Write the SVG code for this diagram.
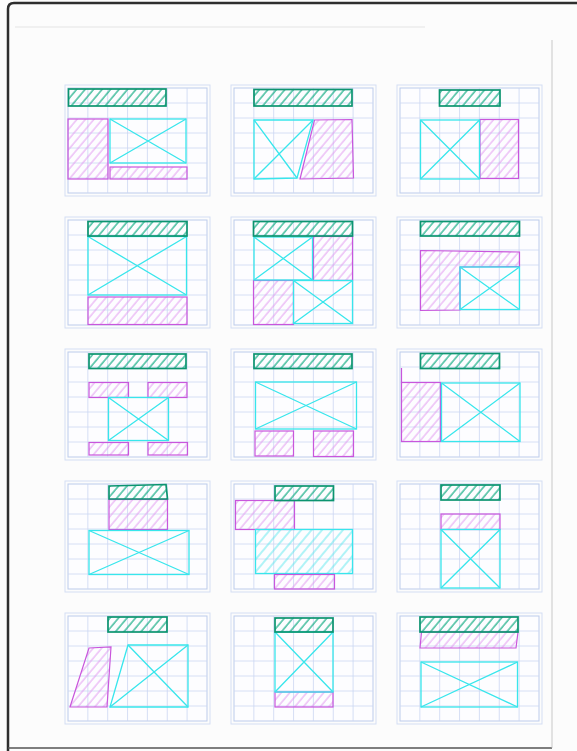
<svg xmlns="http://www.w3.org/2000/svg" xmlns:xlink="http://www.w3.org/1999/xlink" width="577" height="751" viewBox="0 0 577 751">
<style>
.frame{fill:none;stroke:#d4def3;stroke-width:1}
.gb{fill:#fdfdff;stroke:#bccbeb;stroke-width:1}
.gl{fill:none;stroke:#cbd7f3;stroke-width:0.8}
.g{fill:url(#hg);stroke:#0c9470;stroke-width:1.7}
.m{fill:url(#hm);stroke:#c956dc;stroke-width:1.2}
.c{fill:none;stroke:#38e6ec;stroke-width:1.3}
.ch{fill:url(#hc);stroke:#38e6ec;stroke-width:1.3}
.ml{fill:none;stroke:#c956dc;stroke-width:1.2}
</style>
<defs>
<pattern id="hg" width="6.5" height="6.5" patternUnits="userSpaceOnUse" patternTransform="rotate(40)"><line x1="1" y1="0" x2="1" y2="6.5" stroke="#14ad84" stroke-width="1.2"/></pattern>
<pattern id="hm" width="6.5" height="6.5" patternUnits="userSpaceOnUse" patternTransform="rotate(40)"><line x1="1" y1="0" x2="1" y2="6.5" stroke="#e196ef" stroke-width="0.9"/></pattern>
<pattern id="hc" width="8" height="8" patternUnits="userSpaceOnUse" patternTransform="rotate(40)"><line x1="1" y1="0" x2="1" y2="8" stroke="#52e6ec" stroke-width="0.9"/></pattern>
<g id="gridtpl">
<rect x="-3" y="-3" width="145" height="111" class="frame"/>
<rect x="0" y="0" width="139" height="105" class="gb"/>
<path class="gl" d="M19.85 0V105M39.7 0V105M59.55 0V105M79.4 0V105M99.25 0V105M119.1 0V105M0 15H139M0 30H139M0 45H139M0 60H139M0 75H139M0 90H139"/>
</g>
</defs>
<rect x="0" y="0" width="577" height="751" fill="#fcfcfc"/>
<g id="page">
<path d="M8 751V9Q8 3 14 3H577" fill="none" stroke="#2e2e2e" stroke-width="2.5"/>
<path d="M8 748H552" fill="none" stroke="#555" stroke-width="1.5"/>
<path d="M552 40V748" fill="none" stroke="#bbb" stroke-width="0.8"/>
<path d="M15 27H425" fill="none" stroke="#e4e4e4" stroke-width="1"/>
</g>

<g id="p1" transform="translate(68,88)">
<use xlink:href="#gridtpl" href="#gridtpl"/>
<rect class="m" x="0" y="31" width="40" height="60"/>
<rect class="m" x="42" y="79" width="77" height="12"/>
<rect class="c" x="42" y="31" width="76" height="44"/><path class="c" d="M42 31L118 75M118 31L42 75"/>
<rect class="g" x="0.5" y="1" width="97.5" height="17"/>
</g>

<g id="p2" transform="translate(234,88)">
<use xlink:href="#gridtpl" href="#gridtpl"/>
<polygon class="m" points="80.5,32 118,31.5 119.5,90 66,91"/>
<polygon class="c" points="20,32 79,32 63,90 20,91"/><path class="c" d="M20 32L63 90M79 32L20 91"/>
<rect class="g" x="20" y="1.5" width="98" height="16.5"/>
</g>

<g id="p3" transform="translate(400,88)">
<use xlink:href="#gridtpl" href="#gridtpl"/>
<rect class="m" x="80" y="31.5" width="38.5" height="59"/>
<rect class="c" x="20.5" y="32" width="59" height="59"/><path class="c" d="M20.5 32L79.5 91M79.5 32L20.5 91"/>
<rect class="g" x="39.5" y="2" width="60.5" height="16"/>
</g>

<g id="p4" transform="translate(68,220)">
<use xlink:href="#gridtpl" href="#gridtpl"/>
<rect class="m" x="20" y="77" width="99" height="27.5"/>
<rect class="c" x="20" y="16.5" width="98.5" height="58.5"/><path class="c" d="M20 16.5L118.5 75M118.5 16.5L20 75"/>
<rect class="g" x="20" y="1.5" width="99" height="14.5"/>
</g>

<g id="p5" transform="translate(234,220)">
<use xlink:href="#gridtpl" href="#gridtpl"/>
<rect class="m" x="79.5" y="16.5" width="39" height="44"/>
<rect class="m" x="19.5" y="60.5" width="40" height="44"/>
<rect class="c" x="20" y="17" width="58.5" height="43"/><path class="c" d="M20 17L78.5 60M78.5 17L20 60"/>
<rect class="c" x="59.5" y="60.5" width="59" height="43"/><path class="c" d="M59.5 60.5L118.5 103.5M118.5 60.5L59.5 103.5"/>
<rect class="g" x="19.5" y="1.5" width="99" height="14.5"/>
</g>

<g id="p6" transform="translate(400,220)">
<use xlink:href="#gridtpl" href="#gridtpl"/>
<polygon class="m" points="20.5,30.5 119.5,32 119.5,46.5 60,47 60,90 20.5,90.5"/>
<rect class="c" x="60" y="47" width="59.5" height="42.5"/><path class="c" d="M60 47L119.5 89.5M119.5 47L60 89.5"/>
<rect class="g" x="20.5" y="1.5" width="99" height="14.5"/>
</g>

<g id="p7" transform="translate(68,352)">
<use xlink:href="#gridtpl" href="#gridtpl"/>
<rect class="m" x="21" y="30.5" width="39.5" height="15"/>
<rect class="m" x="80" y="30.5" width="39" height="15"/>
<rect class="m" x="21" y="90.5" width="39.5" height="12.5"/>
<rect class="m" x="80" y="90.5" width="39.5" height="12.5"/>
<rect class="c" x="40.5" y="45.5" width="60" height="43"/><path class="c" d="M40.5 45.5L100.5 88.5M100.5 45.5L40.5 88.5"/>
<rect class="g" x="21" y="2" width="97" height="14.5"/>
</g>

<g id="p8" transform="translate(234,352)">
<use xlink:href="#gridtpl" href="#gridtpl"/>
<rect class="m" x="21" y="79" width="38.5" height="25"/>
<rect class="m" x="79.5" y="79" width="40" height="25.5"/>
<rect class="c" x="21.5" y="30" width="101" height="47"/><path class="c" d="M21.5 30L122.5 77M122.5 30L21.5 77"/>
<rect class="g" x="20" y="2" width="98" height="14.5"/>
</g>

<g id="p9" transform="translate(400,352)">
<use xlink:href="#gridtpl" href="#gridtpl"/>
<rect class="m" x="1.5" y="30.5" width="39" height="59"/>
<path class="ml" d="M1.5 16V30.5"/>
<rect class="c" x="41.5" y="31" width="78.5" height="58.5"/><path class="c" d="M41.5 31L120 89.5M120 31L41.5 89.5"/>
<rect class="g" x="20.5" y="1.5" width="79" height="15"/>
</g>

<g id="p10" transform="translate(68,484)">
<use xlink:href="#gridtpl" href="#gridtpl"/>
<rect class="m" x="41" y="15.5" width="58.5" height="30"/>
<rect class="c" x="21" y="46.5" width="100" height="44"/><path class="c" d="M21 46.5L121 90.5M121 46.5L21 90.5"/>
<polygon class="g" points="41,2 98,0.5 99.5,15 41,15"/>
</g>

<g id="p11" transform="translate(234,484)">
<use xlink:href="#gridtpl" href="#gridtpl"/>
<rect class="m" x="1.5" y="16.5" width="59" height="29"/>
<rect class="ch" x="21.5" y="45.5" width="97" height="44"/>
<rect class="m" x="40.5" y="90.5" width="60" height="14.5"/>
<rect class="g" x="41" y="2" width="58.5" height="14.5"/>
</g>

<g id="p12" transform="translate(400,484)">
<use xlink:href="#gridtpl" href="#gridtpl"/>
<rect class="m" x="41" y="30" width="59" height="15.5"/>
<rect class="c" x="41" y="45.5" width="59" height="58.5"/><path class="c" d="M41 45.5L100 104M100 45.5L41 104"/>
<rect class="g" x="41" y="1" width="59" height="15"/>
</g>

<g id="p13" transform="translate(68,616)">
<use xlink:href="#gridtpl" href="#gridtpl"/>
<polygon class="m" points="21,32 43,31 39,91 2,91"/>
<polygon class="c" points="60,29 120,29 120,91 42,91"/><path class="c" d="M60 29L120 91M120 29L42 91"/>
<rect class="g" x="40" y="1" width="59" height="15"/>
</g>

<g id="p14" transform="translate(234,616)">
<use xlink:href="#gridtpl" href="#gridtpl"/>
<rect class="m" x="41" y="76" width="58" height="15"/>
<rect class="c" x="41" y="16" width="58" height="60"/><path class="c" d="M41 16L99 76M99 16L41 76"/>
<rect class="g" x="41" y="2" width="58" height="14"/>
</g>

<g id="p15" transform="translate(400,616)">
<use xlink:href="#gridtpl" href="#gridtpl"/>
<polygon class="m" points="21.5,16 118,16 116,32 20,32"/>
<rect class="c" x="21" y="46" width="96.5" height="45"/><path class="c" d="M21 46L117.5 91M117.5 46L21 91"/>
<rect class="g" x="20" y="1" width="98" height="15"/>
</g>
</svg>
